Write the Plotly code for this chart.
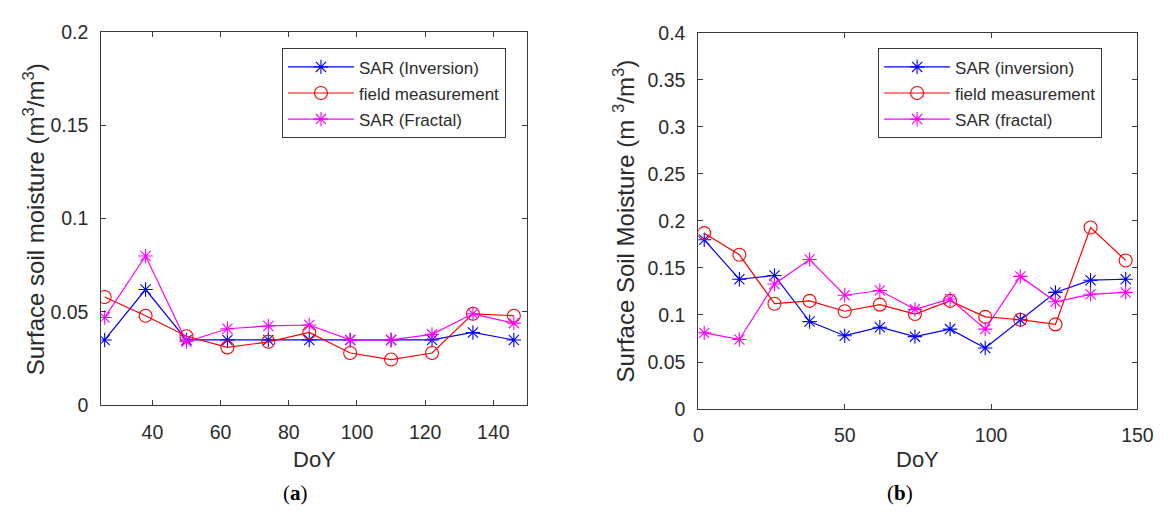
import plotly.graph_objects as go

W, H = 1175, 519

# ---------------- data ----------------
doy_a = [26, 38, 50, 62, 74, 86, 98, 110, 122, 134, 146]
sar_inv_a = [0.035, 0.062, 0.035, 0.035, 0.035, 0.035, 0.035, 0.035, 0.035, 0.039, 0.035]
field_a = [0.058, 0.048, 0.037, 0.031, 0.034, 0.039, 0.028, 0.0245, 0.028, 0.049, 0.048]
sar_frac_a = [0.047, 0.080, 0.034, 0.041, 0.0425, 0.043, 0.035, 0.035, 0.038, 0.049, 0.044]

doy_b = [2, 14, 26, 38, 50, 62, 74, 86, 98, 110, 122, 134, 146]
sar_inv_b = [0.180, 0.138, 0.142, 0.093, 0.078, 0.087, 0.077, 0.085, 0.065, 0.095, 0.124, 0.137, 0.138]
field_b = [0.187, 0.164, 0.112, 0.115, 0.104, 0.111, 0.101, 0.115, 0.098, 0.095, 0.090, 0.193, 0.158]
sar_frac_b = [0.081, 0.074, 0.133, 0.159, 0.121, 0.126, 0.106, 0.117, 0.085, 0.141, 0.114, 0.122, 0.124]

xticks_a = [40, 60, 80, 100, 120, 140]
yticks_a = [0, 0.05, 0.1, 0.15, 0.2]
yticklabels_a = ["0", "0.05", "0.1", "0.15", "0.2"]
xticks_b = [0, 50, 100, 150]
yticks_b = [0, 0.05, 0.1, 0.15, 0.2, 0.25, 0.3, 0.35, 0.4]
yticklabels_b = ["0", "0.05", "0.1", "0.15", "0.2", "0.25", "0.3", "0.35", "0.4"]

names_a = ["SAR (Inversion)", "field measurement", "SAR (Fractal)"]
names_b = ["SAR (inversion)", "field measurement", "SAR (fractal)"]

BLUE, RED, MAG = "#0000FF", "#FF0000", "#FF00FF"
TXT = "#2b2b2b"
AX = "#3a3a3a"
FONT = "Liberation Sans, Arial, sans-serif"


def px_x(p):
    return p / W


def px_y(p):
    return 1 - p / H


fig = go.Figure()


def add_series(x, y, name, color, symbol, size, xa, ya, leg, grp):
    fig.add_trace(go.Scatter(
        x=x, y=y, name=name, mode="lines+markers",
        line=dict(color=color, width=1.2),
        marker=dict(symbol=symbol, size=size, color=color,
                    line=dict(color=color, width=1.1)),
        xaxis=xa, yaxis=ya, legend=leg, legendgroup=grp,
    ))


add_series(doy_a, sar_inv_a, names_a[0], BLUE, "asterisk-open", 12, "x", "y", "legend", "a1")
add_series(doy_a, field_a, names_a[1], RED, "circle-open", 13, "x", "y", "legend", "a2")
add_series(doy_a, sar_frac_a, names_a[2], MAG, "asterisk-open", 12, "x", "y", "legend", "a3")

add_series(doy_b, sar_inv_b, names_b[0], BLUE, "asterisk-open", 12, "x2", "y2", "legend2", "b1")
add_series(doy_b, field_b, names_b[1], RED, "circle-open", 13, "x2", "y2", "legend2", "b2")
add_series(doy_b, sar_frac_b, names_b[2], MAG, "asterisk-open", 12, "x2", "y2", "legend2", "b3")

axis_common = dict(
    showline=True, linecolor=AX, linewidth=1, mirror="allticks",
    ticks="inside", ticklen=5, tickcolor=AX, tickwidth=1,
    showgrid=False, zeroline=False,
    tickfont=dict(family=FONT, size=19.5, color=TXT),
)
xaxis_common = dict(ticklabelstandoff=9, **axis_common)
yaxis_common = dict(ticklabelstandoff=8, **axis_common)

legend_common = dict(
    xanchor="left", yanchor="top",
    bgcolor="white", bordercolor=AX, borderwidth=1,
    font=dict(family=FONT, size=17, color=TXT),
    tracegroupgap=1, itemwidth=66,
)

fig.update_layout(
    width=W, height=H,
    margin=dict(l=0, r=0, t=0, b=0),
    paper_bgcolor="white", plot_bgcolor="white",
    showlegend=True,
    xaxis=dict(domain=[px_x(98), px_x(532)], range=[25, 150],
               tickvals=xticks_a, ticktext=[str(v) for v in xticks_a],
               anchor="y", **xaxis_common),
    yaxis=dict(domain=[px_y(411.7), px_y(22)], range=[0, 0.2],
               tickvals=yticks_a, ticktext=yticklabels_a,
               anchor="x", **yaxis_common),
    xaxis2=dict(domain=[px_x(706), px_x(1153)], range=[0, 150],
                tickvals=xticks_b, ticktext=[str(v) for v in xticks_b],
                anchor="y2", **xaxis_common),
    yaxis2=dict(domain=[px_y(415.7), px_y(22.7)], range=[0, 0.4],
                tickvals=yticks_b, ticktext=yticklabels_b,
                anchor="x2", **yaxis_common),
    legend=dict(x=px_x(282), y=px_y(39), **legend_common),
    legend2=dict(x=px_x(889), y=px_y(39), **legend_common),
)

title_font = dict(family=FONT, size=22, color=TXT)
ytitle_font = dict(family=FONT, size=24, color=TXT)
serif_font = dict(family="Liberation Serif, Times New Roman, serif", size=21, color="#000")
ann = [
    dict(text="DoY", x=px_x(315), y=px_y(468), font=title_font),
    dict(text="DoY", x=px_x(929.5), y=px_y(468), font=title_font),
    dict(text="Surface soil moisture (m<sup>3</sup>/m<sup>3</sup>)", x=px_x(29), y=px_y(217),
         textangle=-90, font=ytitle_font),
    dict(text="Surface Soil Moisture (m <sup>3</sup>/m<sup>3</sup>)", x=px_x(630), y=px_y(219),
         textangle=-90, font=ytitle_font),
    dict(text="(<b>a</b>)", x=px_x(296), y=px_y(503), font=serif_font),
    dict(text="(<b>b</b>)", x=px_x(911), y=px_y(503), font=serif_font),
]
for a in ann:
    a.update(xref="paper", yref="paper", showarrow=False, xanchor="center", yanchor="middle")
fig.update_layout(annotations=ann)

fig.write_html("out.html")
